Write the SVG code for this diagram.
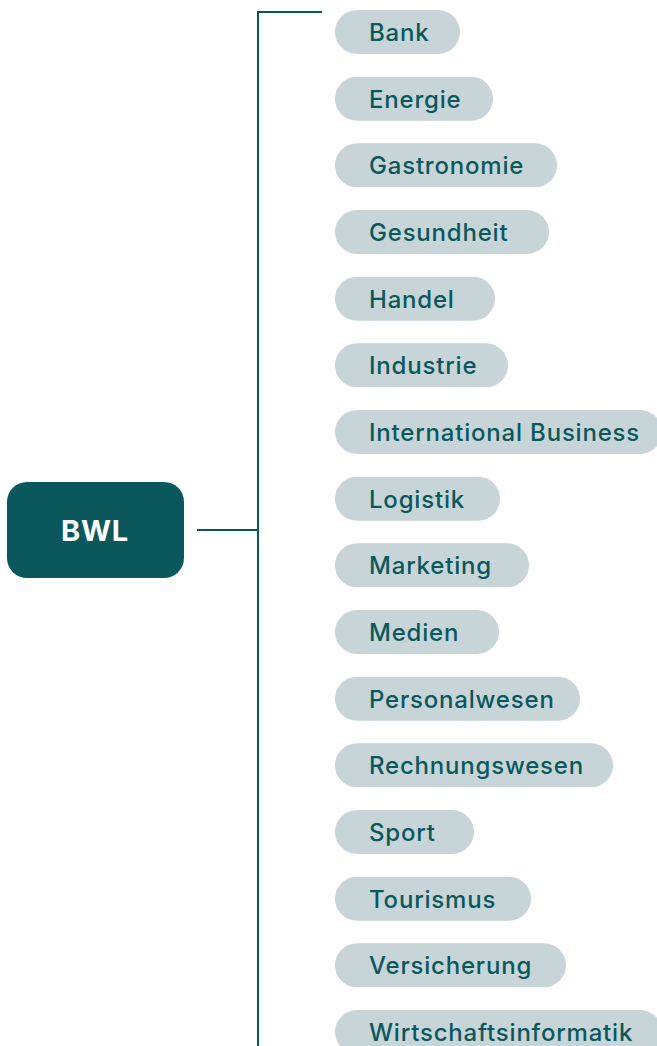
<svg xmlns="http://www.w3.org/2000/svg" width="657" height="1046" viewBox="0 0 657 1046">
<style>
.pill{fill:#c7d5d8}
.pt{font-family:Inter,"Noto Sans",sans-serif;font-size:24px;font-weight:500;letter-spacing:0.8px;fill:#0b585c}
.root{fill:#0b585c}
.rt{font-family:Inter,"Noto Sans",sans-serif;font-size:29px;font-weight:700;letter-spacing:0.8px;fill:#ffffff}
.ln{stroke:#0b585c;stroke-width:2;fill:none}
</style>
<rect width="657" height="1046" fill="#ffffff"/>
<g id="connectors">
<path class="ln" d="M197 530H258M258 1046V12H322"/>
</g>
<g id="n-bwl"><rect class="root" x="7" y="482" width="177" height="96" rx="20"/><text class="rt" x="95" y="541" text-anchor="middle">BWL</text></g>
<g id="n1"><rect class="pill" x="335" y="10" width="125" height="44" rx="22"/><text class="pt" x="369" y="41">Bank</text></g>
<g id="n2"><rect class="pill" x="335" y="76.7" width="158" height="44" rx="22"/><text class="pt" x="369" y="107.7">Energie</text></g>
<g id="n3"><rect class="pill" x="335" y="143.3" width="222" height="44" rx="22"/><text class="pt" x="369" y="174.3">Gastronomie</text></g>
<g id="n4"><rect class="pill" x="335" y="210" width="214" height="44" rx="22"/><text class="pt" x="369" y="241">Gesundheit</text></g>
<g id="n5"><rect class="pill" x="335" y="276.7" width="160" height="44" rx="22"/><text class="pt" x="369" y="307.7">Handel</text></g>
<g id="n6"><rect class="pill" x="335" y="343.3" width="173" height="44" rx="22"/><text class="pt" x="369" y="374.3">Industrie</text></g>
<g id="n7"><rect class="pill" x="335" y="410" width="327" height="44" rx="22"/><text class="pt" x="369" y="441">International Business</text></g>
<g id="n8"><rect class="pill" x="335" y="476.7" width="165" height="44" rx="22"/><text class="pt" x="369" y="507.7">Logistik</text></g>
<g id="n9"><rect class="pill" x="335" y="543.3" width="194" height="44" rx="22"/><text class="pt" x="369" y="574.3">Marketing</text></g>
<g id="n10"><rect class="pill" x="335" y="610" width="164" height="44" rx="22"/><text class="pt" x="369" y="641">Medien</text></g>
<g id="n11"><rect class="pill" x="335" y="676.7" width="245" height="44" rx="22"/><text class="pt" x="369" y="707.7">Personalwesen</text></g>
<g id="n12"><rect class="pill" x="335" y="743.3" width="278" height="44" rx="22"/><text class="pt" x="369" y="774.3">Rechnungswesen</text></g>
<g id="n13"><rect class="pill" x="335" y="810" width="139" height="44" rx="22"/><text class="pt" x="369" y="841">Sport</text></g>
<g id="n14"><rect class="pill" x="335" y="876.7" width="196" height="44" rx="22"/><text class="pt" x="369" y="907.7">Tourismus</text></g>
<g id="n15"><rect class="pill" x="335" y="943.3" width="231" height="44" rx="22"/><text class="pt" x="369" y="974.3">Versicherung</text></g>
<g id="n16"><rect class="pill" x="335" y="1010" width="327" height="44" rx="22"/><text class="pt" x="369" y="1041">Wirtschaftsinformatik</text></g>
</svg>
